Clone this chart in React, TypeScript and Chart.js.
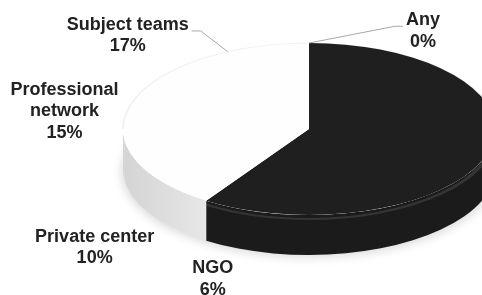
import React, { useEffect, useRef } from 'react';
import { Chart, registerables } from 'chart.js';

Chart.register(...registerables);

// ---- data (clockwise from 12 o'clock) ----
// first slice is the unlabelled dark slice; its size is estimated from its angle in the picture
const categories = ['', 'NGO', 'Private center', 'Professional network', 'Subject teams', 'Any'];
const values = [70, 6, 10, 15, 17, 0];
const colors = ['#1f1f1f', '#fefefe', '#fefefe', '#fefefe', '#fefefe', '#fefefe'];

// ---- styling / placement (not data) ----
const STRETCH = 186 / 86; // horizontal stretch of the pie into an ellipse
const DEPTH = 40; // thickness of the 3D side wall
const LINE_H = 21.5;
const FONT = 'bold 18px "Liberation Sans", Arial, sans-serif';
const labelOffsets: ([number, number] | null)[] = [null, [30, 47], [-43, 45], [-65, 5], [-100, -16], [114, -12]];
const leaderLines = [false, false, false, false, true, true];

function wrap(ctx: CanvasRenderingContext2D, text: string, maxW: number): string[] {
  const words = text.split(' ');
  const out: string[] = [];
  let cur = '';
  for (const w of words) {
    const t = cur ? cur + ' ' + w : w;
    if (cur && ctx.measureText(t).width > maxW) {
      out.push(cur);
      cur = w;
    } else cur = t;
  }
  if (cur) out.push(cur);
  return out;
}

const pie3d = {
  id: 'pie3d',
  beforeDatasetsDraw(chart: any) {
    const ctx: CanvasRenderingContext2D = chart.ctx;
    const arcs = chart.getDatasetMeta(0).data;
    if (!arcs.length) return;
    const { x, y, outerRadius: R } = arcs[0].getProps(['x', 'y', 'outerRadius'], true);
    ctx.save();
    ctx.translate(x, y);
    ctx.scale(STRETCH, 1);
    ctx.translate(-x, -y);

    // soft shadow
    ctx.save();
    ctx.filter = 'blur(4px)';
    ctx.fillStyle = 'rgba(0,0,0,0.13)';
    ctx.beginPath();
    ctx.ellipse(x, y + DEPTH + 3, R + 1, R, 0, 0, Math.PI * 2);
    ctx.fill();
    ctx.restore();

    // side walls (front half only)
    arcs.forEach((arc: any, i: number) => {
      const p = arc.getProps(['startAngle', 'endAngle'], true);
      const a1 = Math.max(p.startAngle, 0);
      const a2 = Math.min(p.endAngle, Math.PI);
      if (a2 <= a1) return;
      ctx.beginPath();
      ctx.arc(x, y, R, a1, a2);
      ctx.lineTo(x + R * Math.cos(a2), y + DEPTH + R * Math.sin(a2));
      ctx.arc(x, y + DEPTH, R, a2, a1, true);
      ctx.closePath();
      if (i === 0) {
        ctx.fillStyle = '#1b1b1b';
        ctx.fill();
        ctx.save();
        ctx.clip();
        ctx.beginPath();
        ctx.arc(x, y + 4, R, a1, a2);
        ctx.strokeStyle = 'rgba(255,255,255,0.11)';
        ctx.lineWidth = 2;
        ctx.stroke();
        ctx.restore();
      } else {
        const g = ctx.createLinearGradient(x - R, 0, x, 0);
        g.addColorStop(0, '#d4d4d4');
        g.addColorStop(0.5, '#e9e9e9');
        g.addColorStop(1, '#f4f4f4');
        ctx.fillStyle = g;
        ctx.fill();
      }
    });

    // opaque base for the top face so nothing shows through slice seams
    ctx.beginPath();
    ctx.arc(x, y, R, 0, Math.PI * 2);
    ctx.fillStyle = '#fefefe';
    ctx.fill();
  },
  afterDatasetsDraw(chart: any) {
    const ctx: CanvasRenderingContext2D = chart.ctx;
    const arcs = chart.getDatasetMeta(0).data;
    if (!arcs.length) return;
    const { x, y, outerRadius: R } = arcs[0].getProps(['x', 'y', 'outerRadius'], true);
    ctx.beginPath();
    ctx.arc(x, y, R, Math.PI, Math.PI * 2);
    ctx.strokeStyle = 'rgba(0,0,0,0.05)';
    ctx.lineWidth = 1;
    ctx.stroke();
    ctx.restore();
  },
  afterDraw(chart: any) {
    const ctx: CanvasRenderingContext2D = chart.ctx;
    const arcs = chart.getDatasetMeta(0).data;
    if (!arcs.length) return;
    const { x, y, outerRadius: R } = arcs[0].getProps(['x', 'y', 'outerRadius'], true);
    ctx.save();
    ctx.font = FONT;
    ctx.fillStyle = '#222';
    ctx.textAlign = 'center';
    ctx.textBaseline = 'middle';
    arcs.forEach((arc: any, i: number) => {
      const off = labelOffsets[i];
      if (!categories[i] || !off) return;
      const p = arc.getProps(['startAngle', 'endAngle'], true);
      const mid = (p.startAngle + p.endAngle) / 2;
      const sin = Math.sin(mid);
      const px = x + STRETCH * R * Math.cos(mid);
      const pyTop = y + R * sin;
      const py = pyTop + (sin > 0.01 ? DEPTH : 0);
      const lines = wrap(ctx, categories[i], 140).concat(`${values[i]}%`);
      const cx = px + off[0];
      const cy = py + off[1];
      const top = cy - ((lines.length - 1) * LINE_H) / 2;
      lines.forEach((t, j) => ctx.fillText(t, cx, top + j * LINE_H));
      if (leaderLines[i]) {
        const w = ctx.measureText(lines[0]).width;
        const toRight = cx > px;
        const ex = toRight ? cx - w / 2 - 3 : cx + w / 2 + 3;
        const ey = top + 6;
        const elbow = toRight ? ex - 8 : ex + 9;
        ctx.beginPath();
        ctx.moveTo(px, pyTop);
        ctx.lineTo(elbow, ey);
        ctx.lineTo(ex, ey);
        ctx.strokeStyle = '#a8a8a8';
        ctx.lineWidth = 1;
        ctx.stroke();
      }
    });
    ctx.restore();
  },
};

export default function App() {
  const ref = useRef<HTMLCanvasElement>(null);
  useEffect(() => {
    if (!ref.current) return;
    const chart = new Chart(ref.current, {
      type: 'pie',
      data: {
        labels: categories,
        datasets: [
          {
            data: values,
            backgroundColor: colors,
            borderWidth: 0,
            clip: false,
          } as any,
        ],
      },
      options: {
        responsive: false,
        animation: false,
        events: [],
        layout: { padding: { left: 136, right: 0, top: 43, bottom: 80 } },
        plugins: { legend: { display: false }, tooltip: { enabled: false } },
      },
      plugins: [pie3d],
    });
    return () => chart.destroy();
  }, []);
  return (
    <div style={{ position: 'fixed', left: 0, top: 0, width: 482, height: 295, background: '#fff', overflow: 'hidden' }}>
      <canvas ref={ref} width={482} height={295} />
    </div>
  );
}
